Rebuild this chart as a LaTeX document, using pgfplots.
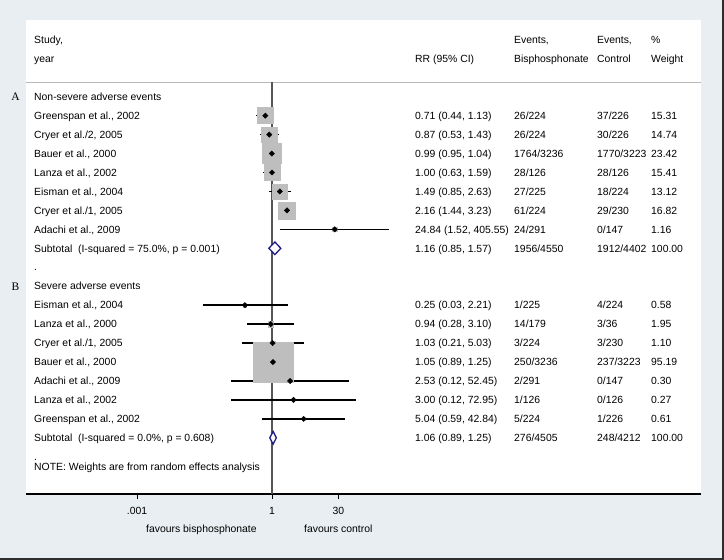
\documentclass[border=0pt]{standalone}
\usepackage{fontspec}
\setmainfont{Liberation Sans}
\newfontfamily\seriffont{Liberation Serif}
\usepackage{pgfplots}
\pgfplotsset{compat=1.18}
\usepackage{pgfplotstable}

\definecolor{bgc}{RGB}{232,238,241}
\definecolor{framec}{RGB}{45,45,45}
\definecolor{sqgray}{RGB}{190,190,190}
\definecolor{navyc}{RGB}{30,30,130}
\definecolor{refline}{RGB}{85,85,85}
\definecolor{hdrline}{RGB}{185,185,185}

% group A: non-severe adverse events (row index, RR, lower, upper, weight)
\pgfplotstableread{
i rr lo hi w
1 0.71 0.44 1.13 15.31
2 0.87 0.53 1.43 14.74
3 0.99 0.95 1.04 23.42
4 1.00 0.63 1.59 15.41
5 1.49 0.85 2.63 13.12
6 2.16 1.44 3.23 16.82
7 24.84 1.52 405.55 1.16
}\dataA
% group B: severe adverse events
\pgfplotstableread{
i rr lo hi w
11 0.25 0.03 2.21 0.58
12 0.94 0.28 3.10 1.95
13 1.03 0.21 5.03 1.10
14 1.05 0.89 1.25 95.19
15 2.53 0.12 52.45 0.30
16 3.00 0.12 72.95 0.27
17 5.04 0.59 42.84 0.61
}\dataB

\newcommand{\fs}{\fontsize{10.4bp}{12bp}\selectfont}
\tikzset{tx/.style={anchor=base west, inner sep=0pt, font=\fs}}
\newcommand\trow[6]{%
  \node[tx] at (34,{100.4+18.95*(#1)}) {#2};
  \node[tx] at (415,{100.4+18.95*(#1)}) {#3};
  \node[tx] at (514,{100.4+18.95*(#1)}) {#4};
  \node[tx] at (597,{100.4+18.95*(#1)}) {#5};
  \node[tx] at (651,{100.4+18.95*(#1)}) {#6};}

\begin{document}
\begin{tikzpicture}
\useasboundingbox (0,0) rectangle (724bp,-560bp);
\fill[bgc] (0,0) rectangle (724bp,-560bp);
\fill[framec] (721.5bp,0) rectangle (724bp,-560bp);
\fill[framec] (0,-557.5bp) rectangle (724bp,-560bp);
\fill[white] (26bp,-20bp) rectangle (701bp,-494bp);
\begin{axis}[
  at={(26bp,-494bp)}, anchor=south west,
  scale only axis, width=675bp, height=474bp,
  xmin=-5.4667, xmax=9.5333, ymin=-20.966, ymax=4.0475,
  axis x line*=bottom, axis y line=none,
  x axis line style={line width=1.1bp, black, -},
  xtick={-3,0,1.47712}, xticklabels={.001,1,30},
  tick align=outside, major tick length=5bp,
  tick style={line width=1bp, black},
  xticklabel style={font=\fs, inner sep=0pt, anchor=base, yshift=-15bp},
  /pgf/number format/assume math mode=true,
  clip=false,
]
% header rule
\addplot[hdrline, line width=0.9bp] coordinates {(-5.4667,0.776) (9.5333,0.776)};
% weight boxes
\addplot[only marks, mark=square*, scatter, point meta=y,
  scatter/use mapped color={draw=sqgray, fill=sqgray},
  visualization depends on={sqrt(\thisrow{w}) \as \sw},
  scatter/@pre marker code/.append style={/tikz/mark size=2.05*\sw}]
  table[x expr={log10(\thisrow{rr})}, y expr={-\thisrow{i}}] {\dataA};
\addplot[only marks, mark=square*, scatter, point meta=y,
  scatter/use mapped color={draw=sqgray, fill=sqgray},
  visualization depends on={sqrt(\thisrow{w}) \as \sw},
  scatter/@pre marker code/.append style={/tikz/mark size=2.05*\sw}]
  table[x expr={log10(\thisrow{rr})}, y expr={-\thisrow{i}}] {\dataB};
% reference line at RR = 1
\addplot[refline, line width=1.1bp] coordinates {(0,0.776) (0,-20.966)};
% confidence intervals and point estimates
\addplot[black, only marks, mark=square*, mark size=1.9,
  mark options={rotate=45, line width=0.4pt, fill=black},
  error bars/.cd, x dir=both, x explicit, error mark=none,
  error bar style={line width=1.5bp, black}]
  table[x expr={log10(\thisrow{rr})}, y expr={-\thisrow{i}},
        x error plus expr={log10(\thisrow{hi})-log10(\thisrow{rr})},
        x error minus expr={log10(\thisrow{rr})-log10(\thisrow{lo})}] {\dataA};
\addplot[black, only marks, mark=square*, mark size=1.9,
  mark options={rotate=45, line width=0.4pt, fill=black},
  error bars/.cd, x dir=both, x explicit, error mark=none,
  error bar style={line width=1.5bp, black}]
  table[x expr={log10(\thisrow{rr})}, y expr={-\thisrow{i}},
        x error plus expr={log10(\thisrow{hi})-log10(\thisrow{rr})},
        x error minus expr={log10(\thisrow{rr})-log10(\thisrow{lo})}] {\dataB};
% subtotal diamonds
\addplot[navyc, line width=1.3bp, fill=white, line join=miter]
  table[x expr={log10(\thisrow{x})}, y=y, row sep=\\]
  {x y\\ 0.85 -8\\ 1.16 -7.667\\ 1.57 -8\\ 1.16 -8.333\\ 0.85 -8\\ 1.16 -7.667\\};
\addplot[navyc, line width=1.3bp, fill=white, line join=miter]
  table[x expr={log10(\thisrow{x})}, y=y, row sep=\\]
  {x y\\ 0.89 -18\\ 1.06 -17.667\\ 1.25 -18\\ 1.06 -18.333\\ 0.89 -18\\ 1.06 -17.667\\};
\end{axis}
\begin{scope}[x=1bp, y=-1bp]
% headers
\node[tx] at (34,43.7) {Study,};
\node[tx] at (34,62.7) {year};
\node[tx] at (415,62.7) {RR (95\% CI)};
\node[tx] at (514,43.7) {Events,};
\node[tx] at (514,62.7) {Bisphosphonate};
\node[tx] at (597,43.7) {Events,};
\node[tx] at (597,62.7) {Control};
\node[tx] at (651,43.7) {\%};
\node[tx] at (651,62.7) {Weight};
% group labels
\node[anchor=base, inner sep=0pt, font={\seriffont\fontsize{11.5bp}{13bp}\selectfont}] at (15.5,100.7) {A};
\node[anchor=base, inner sep=0pt, font={\seriffont\fontsize{11.5bp}{13bp}\selectfont}] at (15.5,290.2) {B};
\trow{0}{Non-severe adverse events}{}{}{}{}
\trow{1}{Greenspan et al., 2002}{0.71 (0.44, 1.13)}{26/224}{37/226}{15.31}
\trow{2}{Cryer et al./2, 2005}{0.87 (0.53, 1.43)}{26/224}{30/226}{14.74}
\trow{3}{Bauer et al., 2000}{0.99 (0.95, 1.04)}{1764/3236}{1770/3223}{23.42}
\trow{4}{Lanza et al., 2002}{1.00 (0.63, 1.59)}{28/126}{28/126}{15.41}
\trow{5}{Eisman et al., 2004}{1.49 (0.85, 2.63)}{27/225}{18/224}{13.12}
\trow{6}{Cryer et al./1, 2005}{2.16 (1.44, 3.23)}{61/224}{29/230}{16.82}
\trow{7}{Adachi et al., 2009}{24.84 (1.52, 405.55)}{24/291}{0/147}{1.16}
\trow{8}{Subtotal\ \ (I-squared = 75.0\%, p = 0.001)}{1.16 (0.85, 1.57)}{1956/4550}{1912/4402}{100.00}
\trow{9}{.}{}{}{}{}
\trow{10}{Severe adverse events}{}{}{}{}
\trow{11}{Eisman et al., 2004}{0.25 (0.03, 2.21)}{1/225}{4/224}{0.58}
\trow{12}{Lanza et al., 2000}{0.94 (0.28, 3.10)}{14/179}{3/36}{1.95}
\trow{13}{Cryer et al./1, 2005}{1.03 (0.21, 5.03)}{3/224}{3/230}{1.10}
\trow{14}{Bauer et al., 2000}{1.05 (0.89, 1.25)}{250/3236}{237/3223}{95.19}
\trow{15}{Adachi et al., 2009}{2.53 (0.12, 52.45)}{2/291}{0/147}{0.30}
\trow{16}{Lanza et al., 2002}{3.00 (0.12, 72.95)}{1/126}{0/126}{0.27}
\trow{17}{Greenspan et al., 2002}{5.04 (0.59, 42.84)}{5/224}{1/226}{0.61}
\trow{18}{Subtotal\ \ (I-squared = 0.0\%, p = 0.608)}{1.06 (0.89, 1.25)}{276/4505}{248/4212}{100.00}
\trow{19}{.}{}{}{}{}
\node[tx] at (34,470.2) {NOTE: Weights are from random effects analysis};
% axis captions
\node[tx] at (146,532.7) {favours bisphosphonate};
\node[tx] at (304,532.7) {favours control};
\end{scope}
\end{tikzpicture}
\end{document}
